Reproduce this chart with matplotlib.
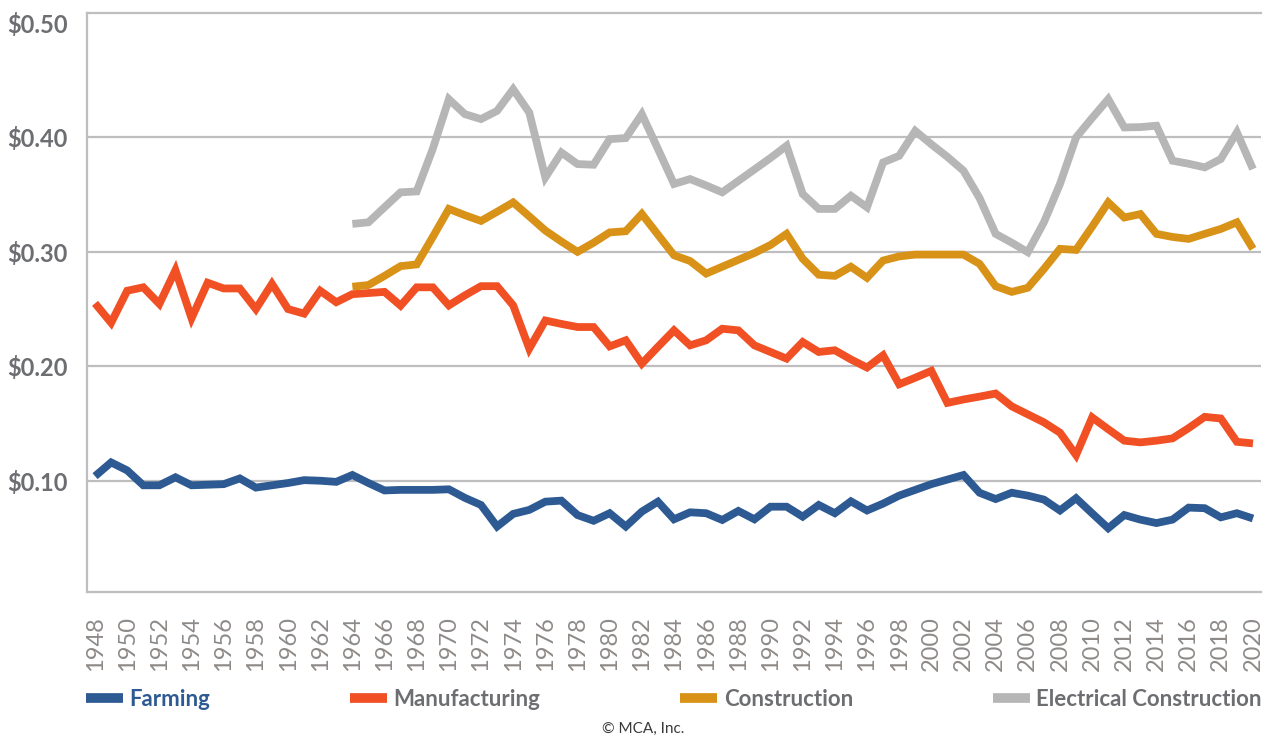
import matplotlib
matplotlib.use("Agg")
import matplotlib.pyplot as plt
import numpy as np

# hourly wage share values
years = list(range(1948, 2021))

farming = [0.104, 0.116, 0.109, 0.096, 0.096, 0.103, 0.096, 0.0965, 0.097, 0.102,
           0.094, 0.096, 0.098, 0.1005, 0.100, 0.099, 0.105, 0.098, 0.0915, 0.092,
           0.092, 0.092, 0.0925, 0.085, 0.0788, 0.060, 0.071, 0.0745, 0.0817, 0.0826,
           0.070, 0.065, 0.0716, 0.060, 0.073, 0.0817, 0.0663, 0.0724, 0.0716, 0.0657,
           0.0736, 0.0663, 0.0773, 0.0773, 0.0686, 0.0788, 0.0716, 0.082, 0.074, 0.080,
           0.087, 0.092, 0.097, 0.101, 0.105, 0.0895, 0.084, 0.0895, 0.087, 0.0835,
           0.074, 0.0847, 0.0715, 0.0585, 0.070, 0.066, 0.063, 0.066, 0.0765, 0.076,
           0.068, 0.0716, 0.067]

manufacturing = [0.255, 0.238, 0.266, 0.269, 0.2545, 0.284, 0.242, 0.273, 0.268, 0.268,
                 0.250, 0.272, 0.250, 0.246, 0.266, 0.256, 0.263, 0.264, 0.265, 0.253,
                 0.269, 0.269, 0.2532, 0.262, 0.270, 0.270, 0.2532, 0.2154, 0.240, 0.237,
                 0.2343, 0.2343, 0.2174, 0.2227, 0.2023, 0.217, 0.2314, 0.2183, 0.2227, 0.2328,
                 0.2314, 0.2183, 0.2125, 0.2067, 0.2212, 0.2125, 0.214, 0.206, 0.1989, 0.2096,
                 0.1843, 0.190, 0.196, 0.168, 0.171, 0.1735, 0.1762, 0.165, 0.158, 0.151,
                 0.142, 0.1224, 0.1553, 0.145, 0.135, 0.1335, 0.135, 0.137, 0.146, 0.1558,
                 0.1544, 0.134, 0.1326]

construction = [None] * 16 + [
    0.2695, 0.271, 0.279, 0.2875, 0.289, 0.313, 0.3375, 0.332, 0.327, 0.335,
    0.3432, 0.331, 0.3186, 0.309, 0.300, 0.308, 0.317, 0.318, 0.3331, 0.315,
    0.297, 0.292, 0.281, 0.287, 0.293, 0.299, 0.306, 0.3157, 0.294, 0.280,
    0.279, 0.287, 0.2773, 0.2924, 0.296, 0.2976, 0.2976, 0.2976, 0.2976, 0.2895,
    0.270, 0.265, 0.2686, 0.285, 0.3026, 0.3017, 0.322, 0.3432, 0.330, 0.333,
    0.3157, 0.313, 0.3113, 0.3157, 0.320, 0.3258, 0.3026]

electrical = [None] * 16 + [
    0.3244, 0.3258, 0.339, 0.352, 0.3528, 0.390, 0.4334, 0.4203, 0.416, 0.4232,
    0.4421, 0.4217, 0.365, 0.3868, 0.3767, 0.3761, 0.3985, 0.3994, 0.4203, 0.390,
    0.3593, 0.3636, 0.358, 0.352, 0.362, 0.372, 0.382, 0.3927, 0.3506, 0.3375,
    0.3375, 0.349, 0.3389, 0.3781, 0.3839, 0.4057, 0.394, 0.383, 0.3709, 0.347,
    0.3157, 0.308, 0.2997, 0.3258, 0.3593, 0.3999, 0.417, 0.4334, 0.4087, 0.409,
    0.4102, 0.3796, 0.377, 0.3738, 0.3811, 0.4044, 0.3723]

labels = ["Farming", "Manufacturing", "Construction", "Electrical Construction"]
colors = ["#2D5A92", "#F05024", "#D99218", "#B5B6B5"]
y_ticks = [0.10, 0.20, 0.30, 0.40, 0.50]

plt.rcParams['font.family'] = ['Lato', 'DejaVu Sans']

fig = plt.figure(figsize=(12.69, 7.37), dpi=100)
ax = fig.add_axes([87 / 1269, 1 - 592.3 / 737, (1261 - 87) / 1269, (592.3 - 13) / 737])

series = [farming, manufacturing, construction, electrical]
for values, label, color in zip(series, labels, colors):
    ys = np.array([np.nan if v is None else v for v in values], dtype=float)
    ax.plot(years, ys, color=color, lw=5.6, label=label, solid_joinstyle='miter',
            solid_capstyle='butt')

ax.set_xlim(1947.5, 2020.5)
ax.set_ylim(0.0025, 0.5087)

grid_color = "#BEBEC0"
for v in y_ticks[:-1]:
    ax.axhline(v, color=grid_color, lw=1.6, zorder=0)

ax.set_yticks(y_ticks)
ax.set_yticklabels([f"${v:.2f}" for v in y_ticks])
ax.set_xticks(years[::2])
ax.set_xticklabels([str(y) for y in years[::2]], rotation=90)

ax.tick_params(axis='y', length=0, pad=14, labelsize=17, labelcolor="#6D6E71")
ax.tick_params(axis='x', length=0, pad=17, labelsize=17, labelcolor="#8E8A88")
for t in ax.get_yticklabels():
    t.set_fontweight('bold')

for side in ['left', 'bottom', 'top']:
    ax.spines[side].set_color(grid_color)
    ax.spines[side].set_linewidth(1.6)
ax.spines['right'].set_visible(False)

leg = fig.legend(loc='center left', bbox_to_anchor=(86 / 1269, 1 - 699 / 737), ncol=4,
                 frameon=False, handlelength=1.65, handletextpad=0.3, columnspacing=6.3,
                 borderpad=0, borderaxespad=0,
                 prop={'size': 16, 'weight': 'bold'})
for line in leg.get_lines():
    line.set_linewidth(7)
for i, t in enumerate(leg.get_texts()):
    t.set_color(colors[0] if i == 0 else "#6D6E71")

fig.text(643 / 1269, 1 - 729 / 737, "© MCA, Inc.", ha='center', va='center',
         fontsize=11, color="#3A3A3A")

fig.savefig("out.png", dpi=100)
